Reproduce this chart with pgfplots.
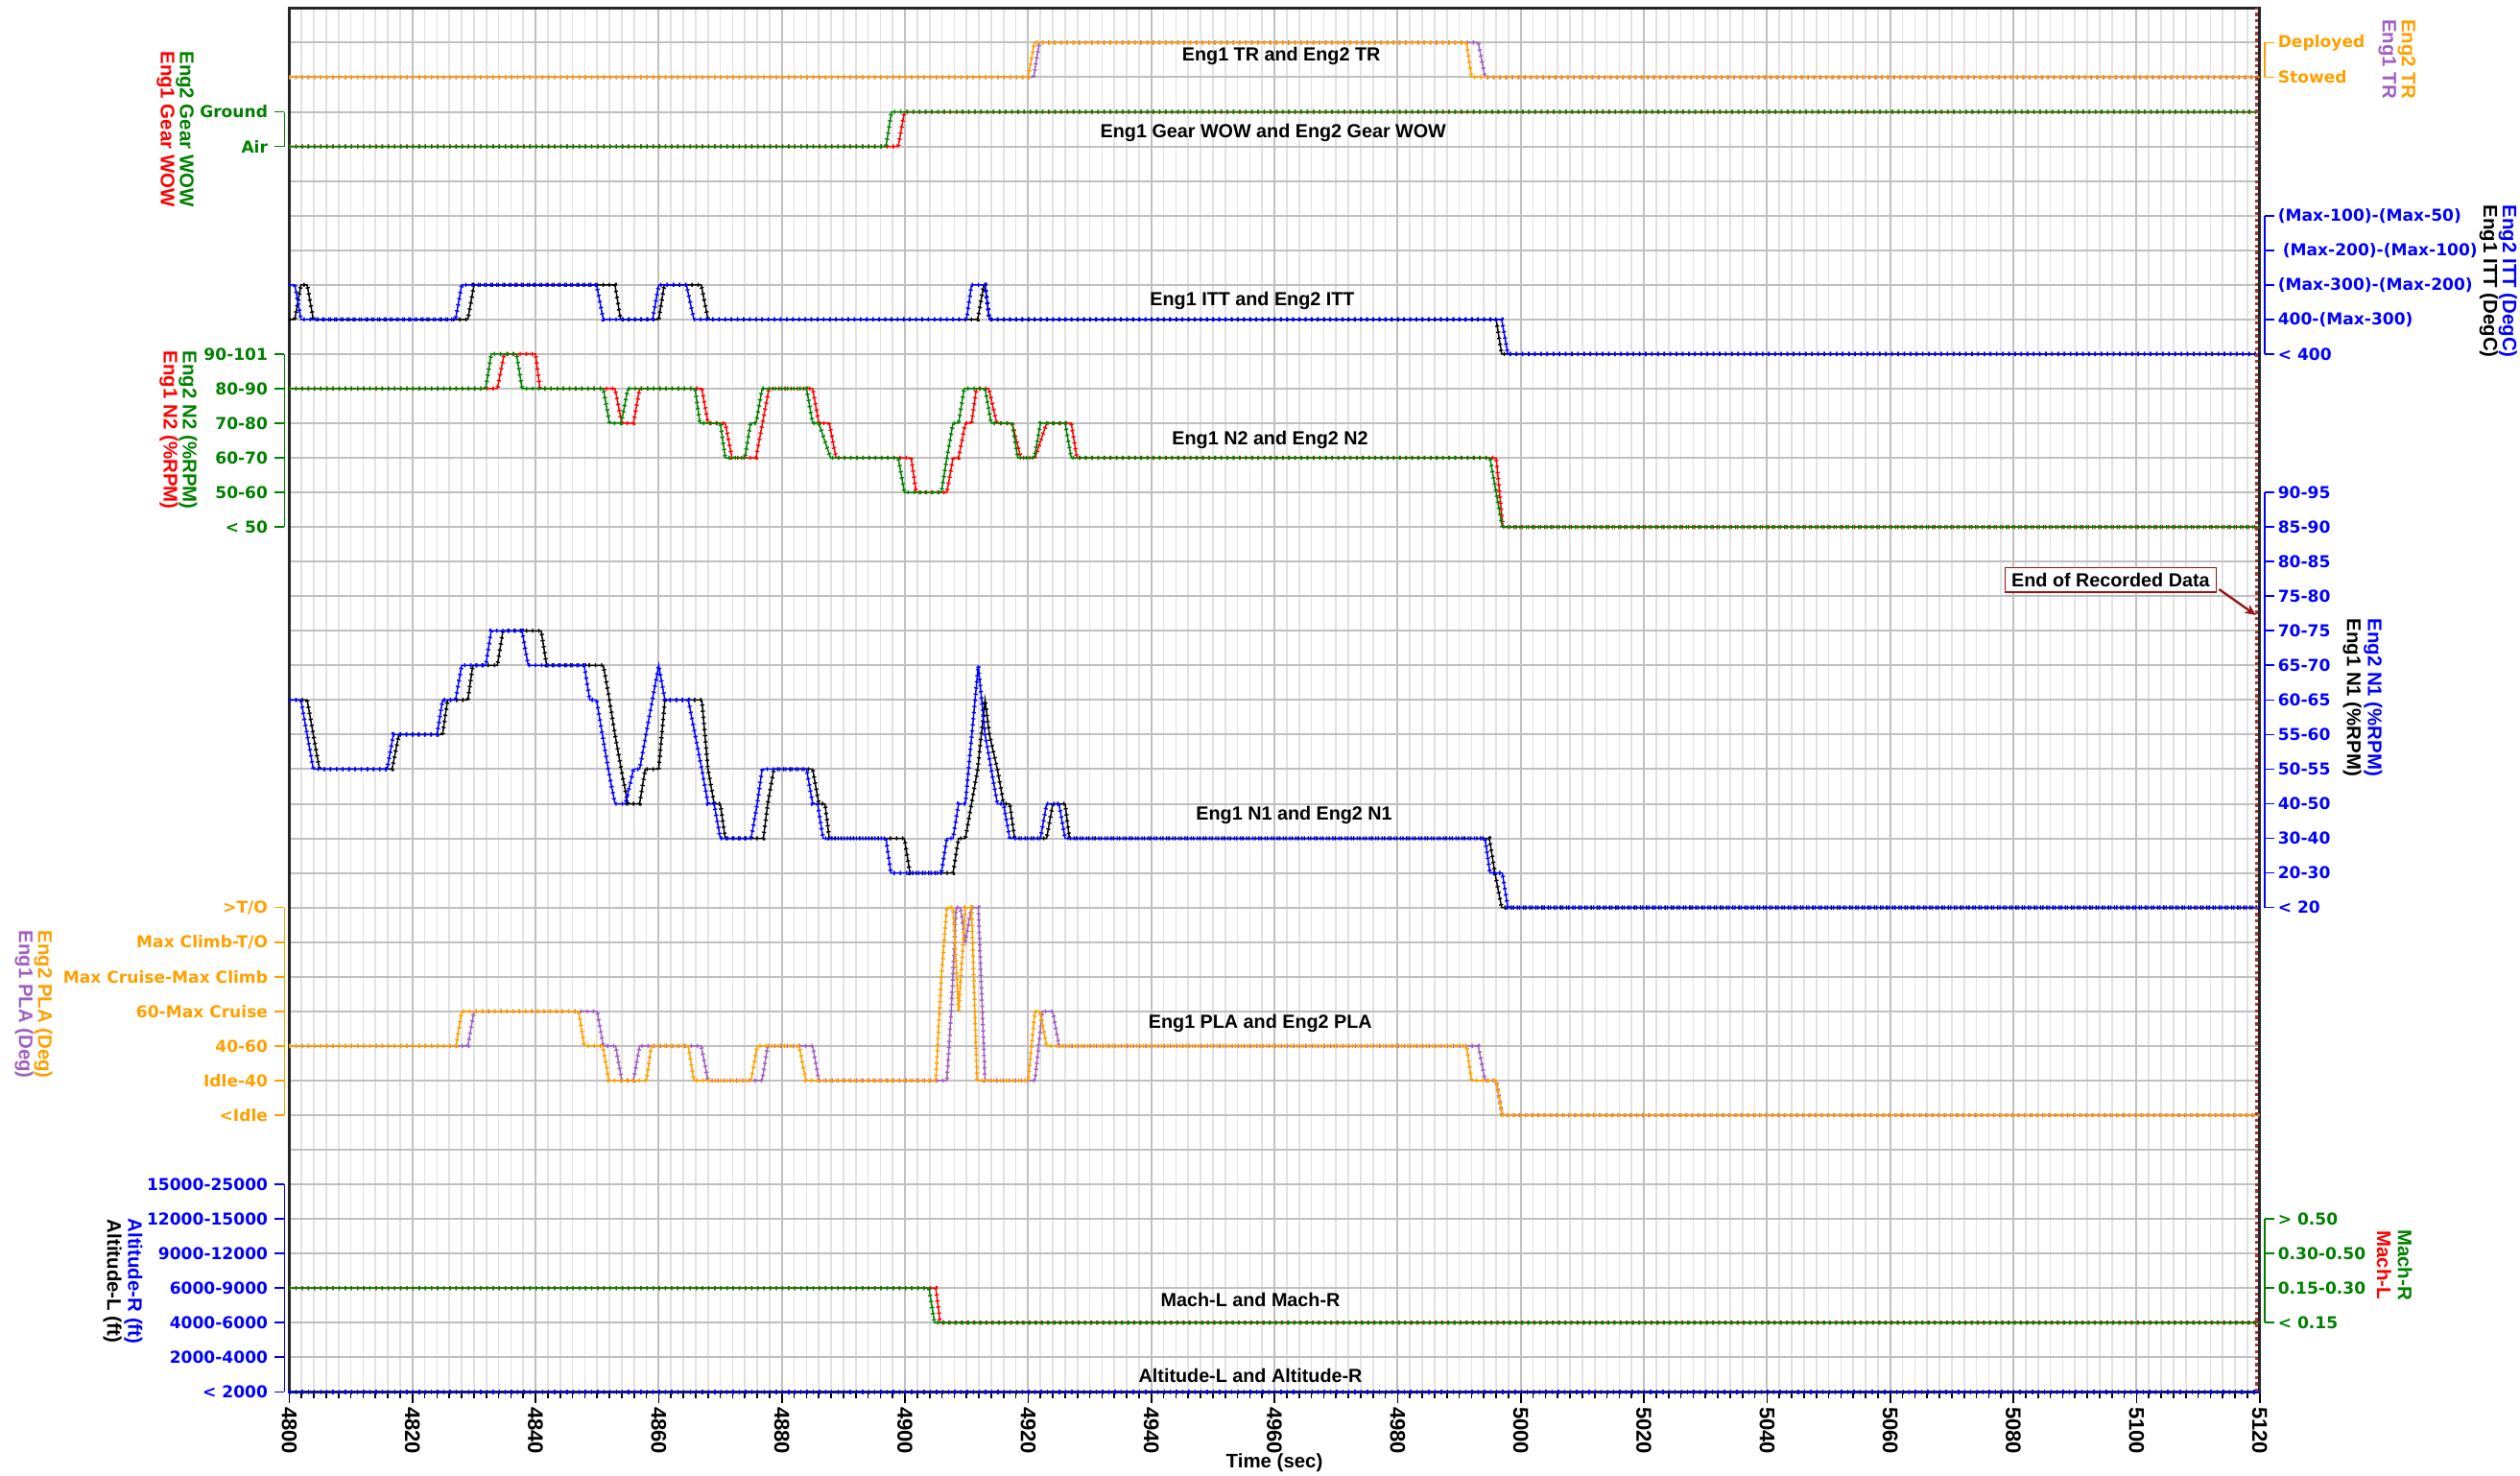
\documentclass[border=0pt]{standalone}
\usepackage{fontspec}
\setmainfont{Liberation Sans}
\newfontfamily\tickfont{DejaVu Sans}
\usepackage{pgfplots}
\pgfplotsset{compat=1.18}
\usetikzlibrary{arrows.meta}

\definecolor{cOr}{RGB}{255,160,0}
\definecolor{cPu}{RGB}{160,96,192}
\definecolor{cGr}{RGB}{0,128,0}
\definecolor{cRd}{RGB}{255,0,0}
\definecolor{cBl}{RGB}{0,0,255}
\definecolor{cDr}{RGB}{150,20,20}

\newcommand\tf{\tickfont\bfseries\fontsize{5.1}{6}\selectfont}
\newcommand\xtf{\bfseries\fontsize{6.6}{7}\selectfont}
\newcommand\ttf{\bfseries\fontsize{5.9}{7}\selectfont}
\newcommand\atf{\bfseries\fontsize{6.1}{7}\selectfont}

\newcommand\LL[3]{%
 \node[font=\tf, text=#1, anchor=east, inner sep=0pt] at ([xshift=-6.5pt]axis cs:4800,#2) {#3};
 \draw[#1, line width=0.5pt] ([xshift=-4.5pt]axis cs:4800,#2) -- ([xshift=-1.5pt]axis cs:4800,#2);}
\newcommand\LB[3]{\draw[#1, line width=0.5pt] ([xshift=-1.5pt]axis cs:4800,#2) -- ([xshift=-1.5pt]axis cs:4800,#3);}
\newcommand\RL[3]{%
 \node[font=\tf, text=#1, anchor=west, inner sep=0pt] at ([xshift=5.5pt]axis cs:5120,#2) {#3};
 \draw[#1, line width=0.5pt] ([xshift=1.5pt]axis cs:5120,#2) -- ([xshift=4.5pt]axis cs:5120,#2);}
\newcommand\RB[3]{\draw[#1, line width=0.5pt] ([xshift=1.5pt]axis cs:5120,#2) -- ([xshift=1.5pt]axis cs:5120,#3);}
\newcommand\AT[4]{\node[font=\atf, text=#1, rotate=-90, inner sep=0pt] at ([xshift=#2]axis cs:#3) {#4};}
\newcommand\TT[2]{\node[font=\ttf, text=black, inner sep=0pt] at (axis cs:#1) {#2};}

\pgfplotsset{ser/.style={draw=#1, line width=0.45pt, mark=none,
  postaction={draw=#1, line width=1.3pt, dash pattern=on 0.4pt off 1.5156pt}}}

\begin{document}
\begin{tikzpicture}
\begin{axis}[
  scale only axis, width=613pt, height=430.5pt,
  xmin=4800, xmax=5120, ymin=0, ymax=40,
  xtick={4800,4820,...,5120}, minor xtick={4800,4802,...,5120},
  ytick={0,1,...,40}, yticklabel={\relax},
  grid=both,
  major grid style={draw={rgb,255:red,192;green,192;blue,192}, line width=0.6pt},
  minor grid style={draw={rgb,255:red,226;green,226;blue,226}, line width=0.5pt},
  xtick pos=bottom, ytick pos=left, tick align=outside,
  major tick length=3.5pt, minor tick length=2pt,
  ytick style={draw=none},
  xtick style={black, line width=0.5pt},
  scaled x ticks=false,
  /pgf/number format/1000 sep={},
  /pgf/number format/assume math mode=true,
  xticklabel style={font=\xtf, rotate=-90, anchor=west, inner sep=1pt},
  axis line style={black!85, line width=0.8pt},
  clip=false,
  xlabel={Time (sec)},
  xlabel style={font=\atf, at={(axis description cs:0.5,0)}, anchor=center, yshift=-22pt},
]
% ---- TR ----
\addplot[ser=cPu] coordinates {(4800,38) (4920.9,38) (4921.8,39) (4993.1,39) (4994.2,38) (5120,38)};
\addplot[ser=cOr] coordinates {(4800,38) (4920,38) (4921,39) (4991.2,39) (4992,38) (5120,38)};
% ---- WOW ----
\addplot[ser=cRd] coordinates {(4800,36) (4898.9,36) (4899.9,37) (5120,37)};
\addplot[ser=cGr] coordinates {(4800,36) (4896.9,36) (4897.8,37) (5120,37)};
% ---- ITT ----
\addplot[ser=black] coordinates {(4800,31) (4800.9,31) (4801.9,32) (4802.9,32) (4803.9,31) (4829,31) (4830,32) (4852.9,32) (4853.8,31) (4860,31) (4860.9,32) (4866.9,32) (4868,31) (4911.8,31) (4912.8,32) (4913,32) (4913.7,31) (4996,31) (4996.9,30) (5120,30)};
\addplot[ser=cBl] coordinates {(4800,32) (4800.9,32) (4801.9,31) (4827,31) (4828,32) (4849.9,32) (4851,31) (4859,31) (4860,32) (4864.5,32) (4865.7,31) (4910,31) (4910.8,32) (4913,32) (4913.7,31) (4996.9,31) (4997.9,30) (5120,30)};
% ---- N2 ----
\addplot[ser=cRd] coordinates {(4800,29) (4833.8,29) (4834.9,30) (4840,30) (4840.7,29) (4852.9,29) (4854,28) (4855.9,28) (4856.9,29) (4867,29) (4868,28) (4870.8,28) (4871.9,27) (4875.8,27) (4877.9,29) (4885,29) (4886,28) (4887.7,28) (4888.8,27) (4901,27) (4901.8,26) (4906.8,26) (4907.8,27) (4908.7,27) (4909.8,28) (4910.8,28) (4911.6,29) (4913.6,29) (4914.9,28) (4917.4,28) (4918.8,27) (4921.1,27) (4923,28) (4927,28) (4927.9,27) (4996,27) (4997.1,25) (5120,25)};
\addplot[ser=cGr] coordinates {(4800,29) (4831.9,29) (4832.8,30) (4836.9,30) (4837.8,29) (4851,29) (4852,28) (4853.9,28) (4855,29) (4865.9,29) (4866.7,28) (4870,28) (4870.8,27) (4874,27) (4874.9,28) (4875.8,28) (4876.8,29) (4884,29) (4885,28) (4886,28) (4887.9,27) (4898.9,27) (4899.9,26) (4905.9,26) (4906.8,27) (4907.8,28) (4908.7,28) (4909.6,29) (4913,29) (4914,28) (4917.4,28) (4918.3,27) (4921,27) (4922,28) (4926,28) (4927,27) (4995,27) (4996,26) (4997,25) (5120,25)};
% ---- N1 ----
\addplot[ser=black] coordinates {(4800,20) (4802.9,20) (4803.9,19) (4804.9,18) (4816.7,18) (4817.8,19) (4824.9,19) (4825.7,20) (4829,20) (4829.8,21) (4833.8,21) (4834.7,22) (4840.9,22) (4841.8,21) (4851,21) (4852,20) (4852.9,19) (4853.9,18) (4855,17) (4856.9,17) (4857.8,18) (4860,18) (4861,20) (4867,20) (4868,18) (4869,17) (4870,17) (4870.8,16) (4877,16) (4877.7,17) (4878.7,18) (4885,18) (4886,17) (4887,17) (4887.7,16) (4899.9,16) (4900.8,15) (4907.8,15) (4908.7,16) (4909.8,16) (4910.8,17) (4911.8,18) (4913,20) (4913.7,19) (4915,18) (4916,17) (4917,17) (4917.8,16) (4923,16) (4924,17) (4926,17) (4926.7,16) (4994.9,16) (4995.8,15) (4996.9,14) (5120,14)};
\addplot[ser=cBl] coordinates {(4800,20) (4801.9,20) (4803.9,18) (4815.9,18) (4816.9,19) (4824,19) (4824.9,20) (4827,20) (4828,21) (4831.9,21) (4832.8,22) (4837.8,22) (4838.8,21) (4847.9,21) (4848.8,20) (4849.9,20) (4851.8,18) (4852.9,17) (4854.6,17) (4855.9,18) (4856.9,18) (4860,21) (4861,20) (4864.8,20) (4865.9,19) (4867,18) (4868,17) (4869,17) (4870,16) (4875,16) (4876,17) (4876.8,18) (4884,18) (4885,17) (4885.8,17) (4886.7,16) (4896.9,16) (4897.7,15) (4905.9,15) (4906.8,16) (4907.8,16) (4908.7,17) (4909.8,17) (4911.9,21) (4913,19) (4914,18) (4915,17) (4916,17) (4917,16) (4922,16) (4923,17) (4925,17) (4926,16) (4994.2,16) (4995,15) (4997,15) (4997.9,14) (5120,14)};
% ---- PLA ----
\addplot[ser=cPu] coordinates {(4800,10) (4829,10) (4830,11) (4850,11) (4851,10) (4853,10) (4854,9) (4855.9,9) (4856.9,10) (4866.9,10) (4868,9) (4876.8,9) (4877.7,10) (4885,10) (4886,9) (4906.8,9) (4907.5,11) (4908.3,14) (4909,14) (4909.8,13) (4910.8,14) (4911.9,14) (4913,9) (4921.1,9) (4922.3,11) (4924,11) (4925,10) (4993.1,10) (4994.2,9) (4996,9) (4997,8) (5120,8)};
\addplot[ser=cOr] coordinates {(4800,10) (4827.1,10) (4828,11) (4847,11) (4847.9,10) (4850.9,10) (4851.9,9) (4858,9) (4858.8,10) (4864.8,10) (4865.7,9) (4875,9) (4876,10) (4882.8,10) (4883.9,9) (4905,9) (4905.9,12) (4906.8,14) (4907.8,14) (4908.7,11) (4909.8,14) (4910.8,14) (4911.7,9) (4920,9) (4921.1,11) (4921.9,11) (4923,10) (4991.2,10) (4992,9) (4996,9) (4997,8) (5120,8)};
% ---- Mach ----
\addplot[ser=cRd] coordinates {(4800,3) (4905,3) (4905.7,2) (5120,2)};
\addplot[ser=cGr] coordinates {(4800,3) (4903.9,3) (4904.8,2) (5120,2)};
% ---- Altitude ----
\addplot[ser=black] coordinates {(4800,0) (5120,0)};
\addplot[ser=cBl] coordinates {(4800,0) (5120,0)};

% end of data line
\draw[cDr!85, line width=0.8pt, dash pattern=on 1pt off 1pt] (axis cs:5119.5,0) -- (axis cs:5119.5,40);

% ---- track titles ----
\TT{4961.1,38.62}{Eng1 TR and Eng2 TR}
\TT{4959.8,36.38}{Eng1 Gear WOW and Eng2 Gear WOW}
\TT{4956.4,31.55}{Eng1 ITT and Eng2 ITT}
\TT{4959.3,27.51}{Eng1 N2 and Eng2 N2}
\TT{4963.2,16.68}{Eng1 N1 and Eng2 N1}
\TT{4957.7,10.64}{Eng1 PLA and Eng2 PLA}
\TT{4956.1,2.65}{Mach-L and Mach-R}
\TT{4956.1,0.46}{Altitude-L and Altitude-R}

% ---- left scales ----
\LB{cGr}{36}{37}
\LL{cGr}{37}{Ground}
\LL{cGr}{36}{Air}
\LB{cGr}{25}{30}
\LL{cGr}{30}{90-101}
\LL{cGr}{29}{80-90}
\LL{cGr}{28}{70-80}
\LL{cGr}{27}{60-70}
\LL{cGr}{26}{50-60}
\LL{cGr}{25}{< 50}
\LB{cOr}{8}{14}
\LL{cOr}{14}{>T/O}
\LL{cOr}{13}{Max Climb-T/O}
\LL{cOr}{12}{Max Cruise-Max Climb}
\LL{cOr}{11}{60-Max Cruise}
\LL{cOr}{10}{40-60}
\LL{cOr}{9}{Idle-40}
\LL{cOr}{8}{<Idle}
\LB{cBl}{0}{6}
\LL{cBl}{6}{15000-25000}
\LL{cBl}{5}{12000-15000}
\LL{cBl}{4}{9000-12000}
\LL{cBl}{3}{6000-9000}
\LL{cBl}{2}{4000-6000}
\LL{cBl}{1}{2000-4000}
\LL{cBl}{0}{< 2000}
% ---- right scales ----
\RB{cOr}{38}{39}
\RL{cOr}{39}{Deployed}
\RL{cOr}{38}{Stowed}
\RB{cBl}{30}{34}
\RL{cBl}{34}{(Max-100)-(Max-50)}
\RL{cBl}{33}{\kern1.5pt(Max-200)-(Max-100)}
\RL{cBl}{32}{(Max-300)-(Max-200)}
\RL{cBl}{31}{400-(Max-300)}
\RL{cBl}{30}{< 400}
\RB{cBl}{14}{26}
\RL{cBl}{26}{90-95}
\RL{cBl}{25}{85-90}
\RL{cBl}{24}{80-85}
\RL{cBl}{23}{75-80}
\RL{cBl}{22}{70-75}
\RL{cBl}{21}{65-70}
\RL{cBl}{20}{60-65}
\RL{cBl}{19}{55-60}
\RL{cBl}{18}{50-55}
\RL{cBl}{17}{40-50}
\RL{cBl}{16}{30-40}
\RL{cBl}{15}{20-30}
\RL{cBl}{14}{< 20}
\RB{cGr}{2}{5}
\RL{cGr}{5}{> 0.50}
\RL{cGr}{4}{0.30-0.50}
\RL{cGr}{3}{0.15-0.30}
\RL{cGr}{2}{< 0.15}

% ---- axis titles ----
\AT{cGr}{-32.5pt}{4800,36.5}{Eng2 Gear WOW}
\AT{cRd}{-38.5pt}{4800,36.5}{Eng1 Gear WOW}
\AT{cGr}{-31.5pt}{4800,27.8}{Eng2 N2 (\%RPM)}
\AT{cRd}{-37.5pt}{4800,27.8}{Eng1 N2 (\%RPM)}
\AT{cOr}{-76.5pt}{4800,11.2}{Eng2 PLA (Deg)}
\AT{cPu}{-82.5pt}{4800,11.2}{Eng1 PLA (Deg)}
\AT{cBl}{-48.5pt}{4800,3.2}{Altitude-R (ft)}
\AT{black}{-55pt}{4800,3.2}{Altitude-L (ft)}
\AT{cOr}{45.75pt}{5120,38.52}{Eng2 TR}
\AT{cPu}{39.75pt}{5120,38.52}{Eng1 TR}
\AT{cBl}{77.25pt}{5120,32.1}{Eng2 ITT (DegC)}
\AT{black}{71.25pt}{5120,32.1}{Eng1 ITT (DegC)}
\AT{cBl}{35.25pt}{5120,20.07}{Eng2 N1 (\%RPM)}
\AT{black}{28.75pt}{5120,20.07}{Eng1 N1 (\%RPM)}
\AT{cGr}{45.25pt}{5120,3.67}{Mach-R}
\AT{cRd}{38.75pt}{5120,3.67}{Mach-L}

% ---- annotation ----
\node[draw=cDr, fill=white, line width=0.5pt, font=\ttf, inner xsep=2pt, inner ysep=1.6pt] at (axis cs:5095.8,23.47) {End of Recorded Data};
\draw[cDr, line width=0.7pt, -{Stealth[length=3.5pt,width=3pt]}] (axis cs:5113.4,23.2) -- (axis cs:5119.4,22.45);
\end{axis}
\pgfresetboundingbox
\useasboundingbox (-90pt,-26pt) rectangle (694pt,433pt);
\end{tikzpicture}
\end{document}
